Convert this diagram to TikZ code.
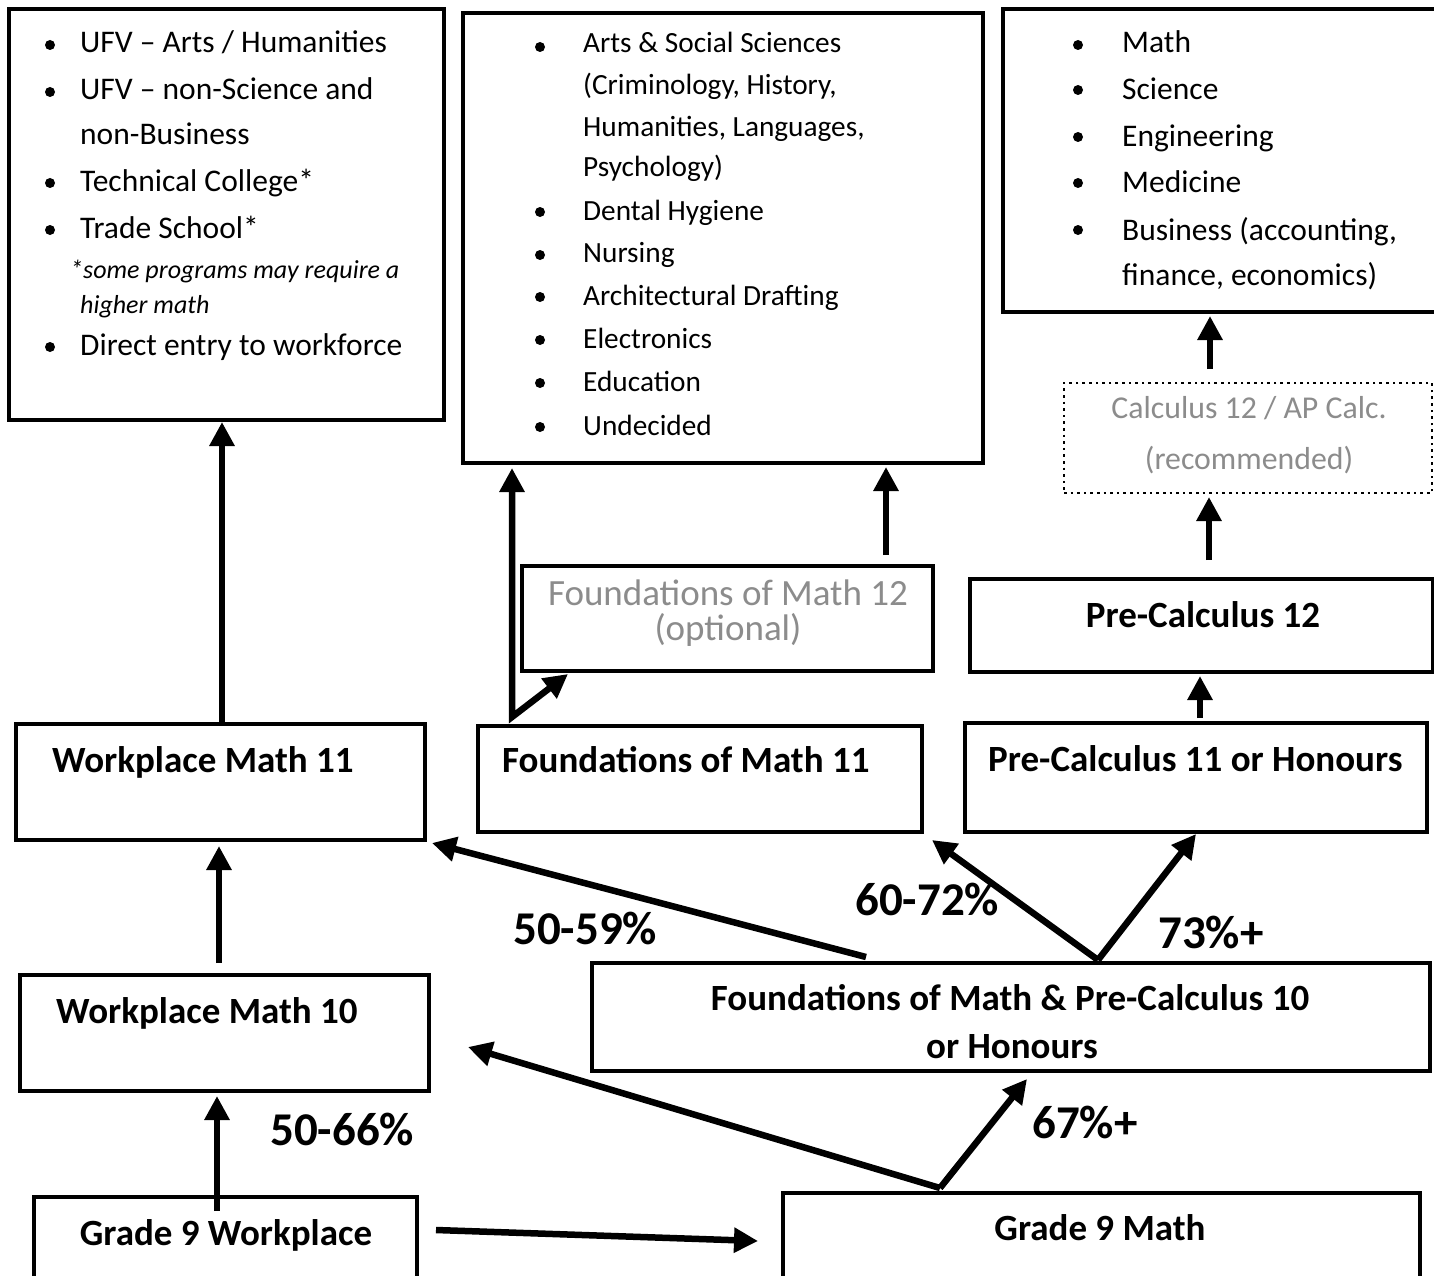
\documentclass[tikz,border=0pt]{standalone}
\usepackage{fontspec}
\setmainfont{Carlito}
\usetikzlibrary{arrows.meta,calc}
\definecolor{greytxt}{HTML}{8C8C8C}
\begin{document}
\begin{tikzpicture}[x=1pt,y=-1pt,
  box/.style={draw, line width=3.2pt, inner sep=0pt, outer sep=0pt, anchor=north west},
  dotbox/.style={draw, line width=2.6pt, dash pattern=on 2.6pt off 4pt, inner sep=0pt, outer sep=0pt, anchor=north west},
  arr/.style={line width=6.5pt, -{Triangle[length=24pt,width=24pt]}},
  head/.style={font=\fontsize{37}{44}\selectfont\bfseries, inner sep=0pt},
  item/.style={font=\fontsize{31.5}{38}\selectfont, inner sep=0pt, anchor=base west},
  itemb/.style={font=\fontsize{29.3}{35}\selectfont, inner sep=0pt, anchor=base west},
  note/.style={font=\fontsize{26}{30}\selectfont\itshape, inner sep=0pt, anchor=base west},
  pct/.style={font=\fontsize{47}{56}\selectfont\bfseries, inner sep=0pt, anchor=base west},
  grey/.style={font=\fontsize{37}{44}\selectfont, text=greytxt, inner sep=0pt, anchor=base},
  bul/.style={circle, fill, inner sep=0pt, minimum size=10pt}
]
\fill[white] (0,0) rectangle (1434,1276);
\useasboundingbox (0,0) rectangle (1434,1276);

% boxes
\node[box, minimum width=435pt, minimum height=411pt] (b1) at (9,9) {};
\node[box, minimum width=520pt, minimum height=450pt] (b2) at (463,13) {};
\node[box, minimum width=434pt, minimum height=303pt] (b3) at (1003,9) {};
\node[dotbox, minimum width=368pt, minimum height=110pt] (cal) at (1064,383) {};
\node[box, minimum width=463pt, minimum height=93pt] (pc12) at (970,579) {};
\node[box, minimum width=462pt, minimum height=109pt] (pc11) at (965,723) {};
\node[box, minimum width=411pt, minimum height=105pt] (fm12) at (522,566) {};
\node[box, minimum width=444pt, minimum height=106pt] (fm11) at (478,726) {};
\node[box, minimum width=409pt, minimum height=116pt] (wm11) at (16,724) {};
\node[box, minimum width=409pt, minimum height=116pt] (wm10) at (20,975) {};
\node[box, minimum width=838pt, minimum height=108pt] (fp10) at (592,963) {};
\node[box, minimum width=383pt, minimum height=93pt] (g9w) at (34,1197) {};
\node[box, minimum width=637pt, minimum height=97pt] (g9m) at (783,1193) {};

% box 1 list
\foreach \y [count=\i] in {45,92,183,230,347} \node[bul] (bA\i) at (50,\y) {};
\node[item] (t1a) at (80,53) {UFV – Arts / Humanities};
\node[item] (t1b) at (80,100) {UFV – non-Science and};
\node[item] (t1c) at (80,145) {non-Business};
\node[item] (t1d) at (80,192) {Technical College*};
\node[item] (t1e) at (80,238) {Trade School*};
\node[note] (t1f) at (70,278) {*some programs may require a};
\node[note] (t1g) at (80,313) {higher math};
\node[item] (t1h) at (80,355) {Direct entry to workforce};

% box 2 list
\foreach \y [count=\i] in {47,212,255,297,340,383,427} \node[bul] (bB\i) at (540,\y) {};
\node[itemb] (t2a) at (583,53) {Arts \& Social Sciences};
\node[itemb] (t2b) at (583,95) {(Criminology, History,};
\node[itemb] (t2c) at (583,137) {Humanities, Languages,};
\node[itemb] (t2d) at (583,177) {Psychology)};
\node[itemb] (t2e) at (583,220) {Dental Hygiene};
\node[itemb] (t2f) at (583,262) {Nursing};
\node[itemb] (t2g) at (583,305) {Architectural Drafting};
\node[itemb] (t2h) at (583,348) {Electronics};
\node[itemb] (t2i) at (583,391) {Education};
\node[itemb] (t2j) at (583,435) {Undecided};

% box 3 list
\foreach \y [count=\i] in {45,90,137,183,230} \node[bul] (bC\i) at (1078,\y) {};
\node[item] (t3a) at (1122,53) {Math};
\node[item] (t3b) at (1122,100) {Science};
\node[item] (t3c) at (1122,147) {Engineering};
\node[item] (t3d) at (1122,193) {Medicine};
\node[item] (t3e) at (1122,240) {Business (accounting,};
\node[item] (t3f) at (1122,285) {finance, economics)};

% grey texts
\node[grey, font=\fontsize{31.8}{38}\selectfont] (tc1) at (1249,418) {Calculus 12 / AP Calc.};
\node[grey, font=\fontsize{31.8}{38}\selectfont] (tc2) at (1249,469) {(recommended)};
\node[grey] (tf1) at (728,605) {Foundations of Math 12};
\node[grey] (tf2) at (728,640) {(optional)};

% headings
\node[head, anchor=base] (hpc12) at (1203,627) {Pre-Calculus 12};
\node[head, anchor=base west] (hpc11) at (988,771) {Pre-Calculus 11 or Honours};
\node[head, anchor=base west] (hfm11) at (502,772) {Foundations of Math 11};
\node[head, anchor=base west] (hwm11) at (52,772) {Workplace Math 11};
\node[head, anchor=base west] (hwm10) at (56,1023) {Workplace Math 10};
\node[head, anchor=base] (hfp1) at (1010,1010) {Foundations of Math \& Pre-Calculus 10};
\node[head, anchor=base] (hfp2) at (1012,1058) {or Honours};
\node[head, anchor=base] (hg9w) at (226,1245) {Grade 9 Workplace};
\node[head, anchor=base] (hg9m) at (1100,1240) {Grade 9 Math};

% percentages
\node[pct] (p1) at (270,1145) {50-66\%};
\node[pct] (p2) at (513,944) {50-59\%};
\node[pct] (p3) at (855,915) {60-72\%};
\node[pct] (p4) at (1158,948) {73\%+};
\node[pct] (p5) at (1032,1138) {67\%+};

% arrows
\draw[arr] ($(wm11.north)+(1.5,-2)$) -- ($(b1.south)+(-4.5,2)$);
\draw[arr] ($(wm10.north)+(-5.5,-12)$) -- ($(wm11.south)+(-1.5,6)$);
\draw[arr] ($(g9w.north)+(-8.5,14)$) -- ($(wm10.south)+(-7.5,5)$);
\draw[arr] ($(g9w.east)+(19,-13.5)$) -- ($(g9m.west)+(-25,-0.5)$);
\draw[arr] ($(g9m.north)+(-161.5,-5)$) -- ($(fp10.south)+(16,8)$);
\draw[arr] ($(g9m.north)+(-161.5,-5)$) -- ($(wm10.east)+(39,14)$);
\draw[arr] ($(fp10.north)+(-145,-6)$) -- ($(wm11.south east)+(7,3)$);
\draw[arr] ($(fp10.north)+(87,-3)$) -- ($(fm11.south east)+(10,8)$);
\draw[arr] ($(fp10.north)+(87,-3)$) -- ($(pc11.south)+(0,2)$);
\draw[arr] ($(pc11.north)+(4,-5)$) -- ($(pc12.south)+(-1.5,4)$);
\draw[arr] ($(pc12.north)+(7.5,-19)$) -- ($(cal.south)+(-39,4)$);
\draw[arr] ($(cal.north)+(-38,-14)$) -- ($(b3.south)+(-10,4)$);
\draw[line width=6.5pt, {Triangle[length=24pt,width=24pt]}-{Triangle[length=24pt,width=24pt]}]
  ($(b2.south west)+(49,5)$) -- ($(fm11.north west)+(34,-9)$) -- ($(fm12.south west)+(46,3)$);
\draw[arr] ($(fm12.north)+(158.5,-11)$) -- ($(b2.south)+(163,4)$);
\end{tikzpicture}
\end{document}
